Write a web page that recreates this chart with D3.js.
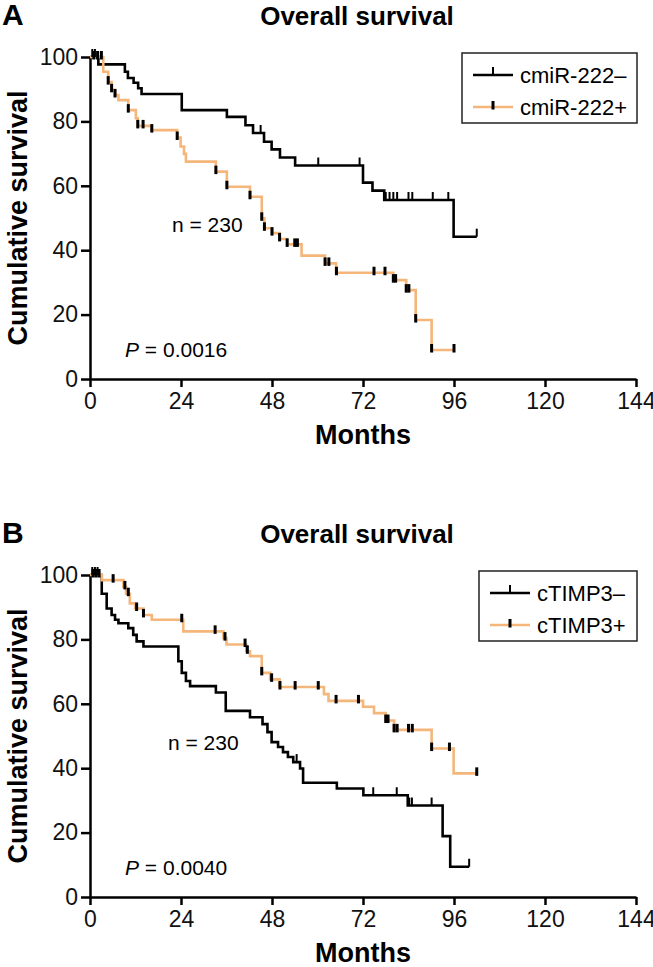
<!DOCTYPE html>
<html>
<head>
<meta charset="utf-8">
<script src="https://cdn.jsdelivr.net/npm/d3@7"></script>
<style>
  body { margin: 0; background: #fff; }
  svg { display: block; font-family: "Liberation Sans", Arial, sans-serif; }
</style>
</head>
<body>
<div id="chart"></div>
<script>
const width = 653
const height = 967

const monthTicks = [0, 24, 48, 72, 96, 120, 144]
const survivalTicks = [0, 20, 40, 60, 80, 100]

// panel A: [month, cumulative survival %] at each drop
const mirNegSteps = [
  [0, 100], [2.2, 97.7], [9.2, 95.4], [10, 93.5], [11.5, 92], [12.7, 90.3],
  [13.6, 88.5], [24.2, 83.5], [36.1, 81.4], [41, 78.8], [43, 76.4],
  [45.9, 73.7], [47.9, 71.3], [50.1, 68.8], [54.1, 66.3], [72, 61],
  [74.5, 58.5], [77.6, 55.6], [95.9, 44.2]
]
const mirNegEnd = 102
const mirNegCensor = [0.6, 1.3, 45, 60.2, 71.1, 78, 79, 80, 81, 84, 85, 90.4, 94.5, 102]

const mirPosSteps = [
  [0, 100], [3.5, 95.4], [4.8, 92.2], [5.7, 89.8], [6.6, 88.2], [7.5, 86.6],
  [10.1, 83.5], [12.1, 81], [12.6, 78.6], [16.3, 77.3], [23, 75], [23.9, 72.2],
  [24.8, 69.9], [25.3, 67.5], [33.2, 64.4], [36.1, 59.7], [42.2, 56.6],
  [45.3, 49.9], [46, 46.8], [48, 45.3], [50, 43.5], [52, 41.8], [55.8, 38.3],
  [62, 35.9], [64.9, 33], [80, 30.7], [83.4, 27.6], [85.9, 18.3], [90.1, 9]
]
const mirPosEnd = 96
const mirPosCensor = [1, 2, 3, 4.8, 5.7, 6.6, 10.1, 12.6, 14, 16.3, 23, 33.2, 36.1,
  42.2, 45.3, 46, 48, 50, 52, 54, 54.7, 62, 63, 65, 74.9, 77.8, 80, 80.6,
  83.4, 84.1, 85.9, 90.1, 96]

// panel B
const timpNegSteps = [
  [0, 100], [3.1, 94.2], [4.4, 89.6], [5.7, 87.6], [6.6, 86.1], [7.5, 85],
  [10.1, 83.5], [11.4, 81.4], [12.3, 79.4], [14.1, 77.8], [23.3, 73.2],
  [24.2, 69.6], [25.3, 67.1], [26.4, 65.5], [33.2, 63.5], [35.8, 57.8],
  [42.2, 55.8], [45.5, 53.7], [46.8, 51.2], [47.9, 48.1], [49.6, 46.6],
  [50.9, 45], [52.2, 43.5], [53.6, 41.9], [55.4, 39.9], [56.2, 35.5],
  [65.1, 33.7], [72.1, 31.6], [83.8, 28.4], [93, 18.9], [95, 9.4]
]
const timpNegEnd = 100
const timpNegCensor = [0.6, 1.3, 2, 54.5, 74.7, 80.9, 84.2, 84.9, 90.1, 100]

const timpPosSteps = [
  [0, 100], [3.1, 98.4], [8.8, 96.3], [9.5, 94.2], [10.5, 91.2], [11.9, 89.6],
  [14.1, 87.6], [16.3, 86.1], [24.6, 82.5], [35.2, 80.4], [36, 78.4],
  [41.2, 76.3], [42.2, 74.8], [45.3, 69.6], [47.5, 67.6], [50, 65.2],
  [61.7, 63], [62.9, 60.9], [72, 59.1], [74.9, 57.1], [78, 54.8],
  [80.2, 51.9], [90.1, 46.1], [95.9, 38.4]
]
const timpPosEnd = 102
const timpPosCensor = [0.8, 1.6, 2.4, 6.1, 9.2, 10.1, 12.3, 14.1, 24.2, 33, 35.6,
  40.9, 41.5, 45.3, 47.9, 50.1, 54.1, 60.2, 64.9, 70.8, 78, 78.6, 80.2, 81,
  84, 85, 90.1, 94.8, 102]

const black = "#000"
const orange = "#f4b67a"

const svg = d3.select("#chart").append("svg")
  .attr("width", width)
  .attr("height", height)

function survivalAt(steps, t) {
  let v = steps[0][1]
  for (const s of steps) {
    if (s[0] <= t) v = s[1]
  }
  return v
}

function drawPanel(top, letter, legendInfo, series, pText) {
  const g = svg.append("g").attr("transform", `translate(0,${top})`)

  const x = d3.scaleLinear().domain([0, 144]).range([90, 636])
  const y = d3.scaleLinear().domain([0, 100]).range([322, 0])

  const plot = g.append("g").attr("transform", "translate(0,57)")

  const xAxis = plot.append("g")
    .attr("transform", "translate(0,322)")
    .call(d3.axisBottom(x).tickValues(monthTicks).tickSize(8).tickSizeOuter(0).tickPadding(5))
  const yAxis = plot.append("g")
    .attr("transform", "translate(90,0)")
    .call(d3.axisLeft(y).tickValues(survivalTicks).tickSize(9).tickSizeOuter(0).tickPadding(3))

  for (const ax of [xAxis, yAxis]) {
    ax.select(".domain").attr("stroke-width", 2.5)
    ax.selectAll(".tick line").attr("stroke-width", 2.5)
    ax.selectAll(".tick text").attr("font-size", 23).attr("fill", "#111")
      .attr("font-family", "Liberation Sans, Arial, sans-serif")
  }
  xAxis.selectAll(".tick text").attr("dy", "0.76em")

  const line = d3.line()
    .x((d) => x(d[0]))
    .y((d) => y(d[1]))
    .curve(d3.curveStepAfter)

  series.forEach((s) => {
    const pts = s.steps.concat([[s.end, s.steps[s.steps.length - 1][1]]])
    plot.append("path")
      .datum(pts)
      .attr("fill", "none")
      .attr("stroke", s.color)
      .attr("stroke-width", 2.6)
      .attr("d", line)
  })

  series.forEach((s) => {
    plot.append("g")
      .selectAll("line")
      .data(s.censor)
      .join("line")
      .attr("x1", (d) => x(d))
      .attr("x2", (d) => x(d))
      .attr("y1", (d) => y(survivalAt(s.steps, d)) - (s.color === black ? 8 : 6))
      .attr("y2", (d) => y(survivalAt(s.steps, d)) + (s.color === black ? 0 : 2.5))
      .attr("stroke", "#000")
      .attr("stroke-width", s.color === black ? 2 : 3)
  })

  // titles and labels
  g.append("text")
    .attr("x", 2).attr("y", 25)
    .attr("font-size", 30).attr("font-weight", "bold")
    .text(letter)
  g.append("text")
    .attr("x", 357).attr("y", 25)
    .attr("text-anchor", "middle")
    .attr("font-size", 26).attr("font-weight", "bold")
    .text("Overall survival")
  g.append("text")
    .attr("transform", "translate(27,218) rotate(-90)")
    .attr("text-anchor", "middle")
    .attr("font-size", 27).attr("font-weight", "bold")
    .text("Cumulative survival")
  g.append("text")
    .attr("x", 363).attr("y", 444)
    .attr("text-anchor", "middle")
    .attr("font-size", 27).attr("font-weight", "bold")
    .text("Months")
  g.append("text")
    .attr("x", pText.nx).attr("y", 232)
    .attr("font-size", 21)
    .text("n = 230")
  const p = g.append("text")
    .attr("x", 125).attr("y", 357)
    .attr("font-size", 21)
  p.append("tspan").attr("font-style", "italic").text("P")
  p.append("tspan").text(" = " + pText.p)

  // legend
  const lg = g.append("g")
  lg.append("rect")
    .attr("x", legendInfo.x).attr("y", 53)
    .attr("width", 637 - legendInfo.x).attr("height", 70)
    .attr("fill", "none").attr("stroke", "#222").attr("stroke-width", 1.5)
  series.forEach((s, i) => {
    const ry = 75 + i * 32
    const lx = legendInfo.x + 11
    lg.append("line")
      .attr("x1", lx).attr("x2", lx + 40)
      .attr("y1", ry).attr("y2", ry)
      .attr("stroke", s.color).attr("stroke-width", 2.6)
    lg.append("line")
      .attr("x1", lx + 20).attr("x2", lx + 20)
      .attr("y1", ry - (s.color === black ? 8 : 6))
      .attr("y2", ry + (s.color === black ? 0 : 2.5))
      .attr("stroke", "#000").attr("stroke-width", s.color === black ? 2 : 3)
    lg.append("text")
      .attr("x", lx + 47).attr("y", ry + 8)
      .attr("font-size", 22)
      .text(s.name)
  })
}

drawPanel(0, "A", { x: 462 }, [
  { name: "cmiR-222\u2013", color: black, steps: mirNegSteps, end: mirNegEnd, censor: mirNegCensor },
  { name: "cmiR-222+", color: orange, steps: mirPosSteps, end: mirPosEnd, censor: mirPosCensor }
], { p: "0.0016", nx: 172 })

drawPanel(518, "B", { x: 479 }, [
  { name: "cTIMP3\u2013", color: black, steps: timpNegSteps, end: timpNegEnd, censor: timpNegCensor },
  { name: "cTIMP3+", color: orange, steps: timpPosSteps, end: timpPosEnd, censor: timpPosCensor }
], { p: "0.0040", nx: 168 })
</script>
</body>
</html>
